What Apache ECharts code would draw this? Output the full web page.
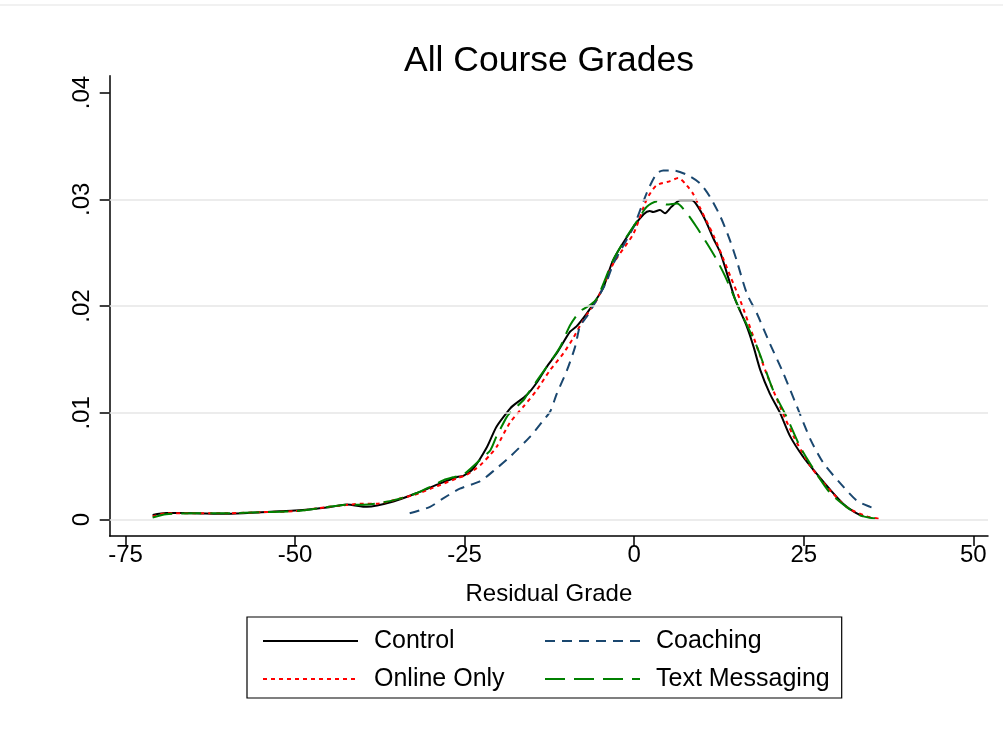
<!DOCTYPE html>
<html><head><meta charset="utf-8">
<script src="https://cdn.jsdelivr.net/npm/echarts@6/dist/echarts.min.js"></script>
<style>html,body{margin:0;padding:0;background:#fff}#c{width:1003px;height:734px}</style>
</head><body><div id="c"></div>
<script>
const xTicks = [-75, -50, -25, 0, 25, 50];
const yTicks = [0, 0.01, 0.02, 0.03, 0.04];
const yTickLabels = ['0', '.01', '.02', '.03', '.04'];
const gridYs = [0, 0.01, 0.02, 0.03];
const seriesNames = ['Control', 'Coaching', 'Online Only', 'Text Messaging'];

const controlX = [-71, -69, -65, -60, -55, -50, -45, -42.4, -39.4, -35.5, -32, -28.6, -26.1, -25.2, -23.7, -21.7, -20.3, -18.3, -17.8, -15.8, -14.4, -12.9, -11.4, -9.45, -8.5, -7, -5.5, -4.5, -3.1, -0.1, 1.4, 2.3, 2.8, 3.8, 4.55, 5.5, 6.8, 8.5, 9.2, 10.45, 11.7, 12.7, 14.1, 14.9, 16.6, 17.6, 18.6, 20, 21.5, 23, 24.9, 26.9, 28.9, 30.8, 32.5, 33.8];
const controlY = [0.00044, 0.00062, 0.0006, 0.00055, 0.0007, 0.00085, 0.00116, 0.00142, 0.0012, 0.0017, 0.0025, 0.0034, 0.0040, 0.0041, 0.0048, 0.0068, 0.0087, 0.0104, 0.0107, 0.0117, 0.0128, 0.0143, 0.0156, 0.0176, 0.0181, 0.0193, 0.0207, 0.0218, 0.0243, 0.0274, 0.0286, 0.0289, 0.0288, 0.0290, 0.0287, 0.0293, 0.0299, 0.0299, 0.0295, 0.0281, 0.0263, 0.0250, 0.0222, 0.0206, 0.0181, 0.0162, 0.0140, 0.0118, 0.0100, 0.0078, 0.0059, 0.0043, 0.0028, 0.0015, 0.0007, 0.0003];

const onlineX = [-71, -69, -65, -60, -55, -50, -45, -42, -40, -38, -35, -32, -30, -28, -26, -24.7, -22.7, -21.2, -20.3, -18.3, -16.3, -14.4, -12.4, -10.4, -9, -7.5, -5.5, -3.05, -0.1, 1.86, 3.3, 5.3, 6.5, 7.75, 8.7, 9.7, 11.7, 13.1, 14.3, 15.6, 17.6, 19.5, 21.5, 23.5, 26, 28.4, 31.3, 34.3, 36.6];
const onlineY = [0.0003, 0.0006, 0.0006, 0.0006, 0.0007, 0.0008, 0.0012, 0.0014, 0.0015, 0.0015, 0.0019, 0.0024, 0.0029, 0.0034, 0.0039, 0.0042, 0.0051, 0.0061, 0.0068, 0.0091, 0.0106, 0.0121, 0.0140, 0.0156, 0.0170, 0.0187, 0.0206, 0.0240, 0.0268, 0.0300, 0.0313, 0.0317, 0.0320, 0.0313, 0.0305, 0.0292, 0.0266, 0.0245, 0.0226, 0.0206, 0.0171, 0.0137, 0.0106, 0.0078, 0.0050, 0.0031, 0.0012, 0.0003, 0.00004];

const coachingX = [-33.1, -30.1, -28.4, -25.7, -22.7, -20.3, -18.3, -15.3, -13.4, -12.4, -11.4, -9.9, -8.7, -8, -7, -5.5, -4, -3.05, -0.1, 1.86, 3.3, 4.3, 5.8, 7.75, 9.7, 11.2, 12.7, 14.1, 15.1, 16.6, 18.1, 20, 22, 24, 26, 27.9, 30.4, 32.8, 34.8, 35.8];
const coachingY = [0.0006, 0.0012, 0.0019, 0.0029, 0.0036, 0.0048, 0.0059, 0.0078, 0.0093, 0.0101, 0.0118, 0.0140, 0.0162, 0.0181, 0.0190, 0.0206, 0.0224, 0.0240, 0.0274, 0.0306, 0.0324, 0.0327, 0.0327, 0.0323, 0.0315, 0.0302, 0.0284, 0.0262, 0.0243, 0.0212, 0.0193, 0.0165, 0.0137, 0.0106, 0.0075, 0.0053, 0.0034, 0.0018, 0.0012, 0.0010];

const textX = [-71, -69, -65, -60, -55, -50, -45, -42, -40, -38, -35, -32, -30, -28.1, -26.5, -25.2, -22.2, -21.2, -20.3, -19.8, -18.8, -18.3, -16.3, -15.8, -12.9, -10.9, -9.45, -8, -6.5, -5.5, -3.1, -1.1, 0.87, 1.86, 3.3, 4.8, 6.3, 7.75, 9.2, 10.7, 12.2, 13.4, 15.6, 18.1, 20.5, 22.5, 24.5, 26.9, 28.9, 31.3, 33.3, 35.5];
const textY = [0.0002, 0.0005, 0.0006, 0.0006, 0.0007, 0.0008, 0.0012, 0.0014, 0.0014, 0.0015, 0.0019, 0.0025, 0.0031, 0.0037, 0.0040, 0.0042, 0.0059, 0.0065, 0.0078, 0.0084, 0.0096, 0.0100, 0.0112, 0.0117, 0.0143, 0.0162, 0.0182, 0.0195, 0.0201, 0.0207, 0.0243, 0.0265, 0.0284, 0.0293, 0.0298, 0.0295, 0.0296, 0.0287, 0.0274, 0.0259, 0.0243, 0.0228, 0.0196, 0.0162, 0.0121, 0.0096, 0.0068, 0.0043, 0.0025, 0.0012, 0.0004, 0.0001];

const FONT = "'Liberation Sans', Arial, Helvetica, sans-serif";
const pairs = (xs, ys) => xs.map((x, i) => [x, ys[i]]);

function curve(name, xs, ys, color, type, width) {
  return {
    name, type: 'line', data: pairs(xs, ys), symbol: 'none', showSymbol: false,
    smooth: 0.25, z: 3,
    lineStyle: { color, type, width }, itemStyle: { color },
    emphasis: { disabled: true }
  };
}

const chart = echarts.init(document.getElementById('c'), null, { renderer: 'canvas' });
chart.setOption({
  animation: false,
  backgroundColor: '#fff',
  textStyle: { fontFamily: FONT },
  title: {
    text: 'All Course Grades', left: 544, top: 38, textAlign: 'center',
    textStyle: { fontSize: 35.5, fontWeight: 'normal', color: '#000', fontFamily: FONT }
  },
  graphic: [{ type: 'line', shape: { x1: 0, y1: 5, x2: 1003, y2: 5 }, style: { stroke: '#ececec', lineWidth: 1.5 }, silent: true }],
  grid: { left: 109.7, right: 15, top: 75.7, bottom: 198, containLabel: false },
  xAxis: {
    type: 'value', min: -77.33, max: 52.17,
    axisLine: { show: true, onZero: false, lineStyle: { color: '#000', width: 1.5 } },
    axisTick: { show: true, length: 10, customValues: xTicks, lineStyle: { color: '#000', width: 1.5 } },
    axisLabel: { customValues: xTicks, fontSize: 24, color: '#000', margin: 7, fontFamily: FONT },
    splitLine: { show: false },
    name: 'Residual Grade', nameLocation: 'middle', nameGap: 46,
    nameTextStyle: { fontSize: 24, color: '#000', fontFamily: FONT }
  },
  yAxis: {
    type: 'value', min: -0.00153, max: 0.04157,
    axisLine: { show: true, onZero: false, lineStyle: { color: '#000', width: 1.5 } },
    axisTick: { show: true, length: 10, customValues: yTicks, lineStyle: { color: '#000', width: 1.5 } },
    axisLabel: {
      customValues: yTicks, rotate: 90, fontSize: 24, color: '#000', margin: 15, fontFamily: FONT,
      formatter: v => {
        let best = 0;
        yTicks.forEach((t, i) => { if (Math.abs(t - v) < Math.abs(yTicks[best] - v)) best = i; });
        return yTickLabels[best];
      }
    },
    splitLine: { show: false }
  },
  legend: {
    data: seriesNames, left: 247, top: 617, width: 600, orient: 'horizontal',
    itemWidth: 95, itemHeight: 14, itemGap: 12,
    padding: [11, 12, 6, 15],
    borderColor: '#000', borderWidth: 1.2, backgroundColor: '#fff',
    selectedMode: false,
    itemStyle: { opacity: 0 },
    textStyle: { fontSize: 25, color: '#000', width: 158, lineHeight: 26, padding: [0, 0, 0, 11], fontFamily: FONT }
  },
  series: [
    {
      name: 'grid', type: 'line', data: [], silent: true, z: 1,
      markLine: {
        silent: true, symbol: ['none', 'none'], label: { show: false },
        lineStyle: { color: '#e6e6e6', type: 'solid', width: 1.5 },
        data: gridYs.map(v => ({ yAxis: v }))
      }
    },
    curve('Control', controlX, controlY, '#000000', 'solid', 2),
    curve('Online Only', onlineX, onlineY, '#ff0000', [4, 4], 2),
    curve('Coaching', coachingX, coachingY, '#1a476f', [10, 7], 2),
    curve('Text Messaging', textX, textY, '#008000', [20, 9], 2)
  ]
});
</script>
</body></html>
